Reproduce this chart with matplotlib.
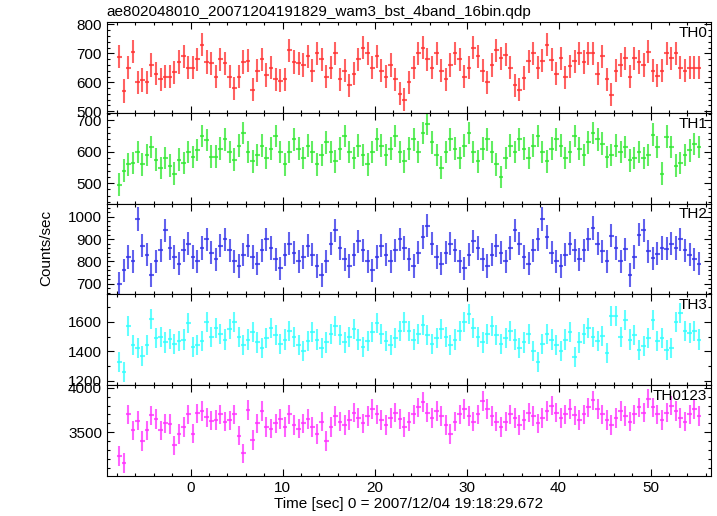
import numpy as np
import matplotlib
matplotlib.use("Agg")
import matplotlib.pyplot as plt
from matplotlib.ticker import MultipleLocator

plt.rcParams['font.family'] = ['Liberation Sans', 'DejaVu Sans']

title = "ae802048010_20071204191829_wam3_bst_4band_16bin.qdp"
xlabel = "Time [sec] 0 = 2007/12/04 19:18:29.672"
ylabel = "Counts/sec"

# time bins (sec), centre of first bin and bin width
t_start = -7.75
bin_width = 0.5

names = ["TH0", "TH1", "TH2", "TH3", "TH0123"]
colors = ["#ff2d2d", "#2de82d", "#2d2de8", "#2dffff", "#ff2dff"]
errs = [40, 36, 52, 68, 110]

th0 = [688, 570, 650, 705, 600, 608, 600, 660, 630, 610,
       620, 620, 635, 670, 690, 650, 650, 680, 730, 670,
       665, 620, 680, 665, 620, 580, 620, 670, 675, 575,
       640, 680, 625, 650, 610, 605, 610, 710, 670, 665,
       660, 690, 640, 700, 680, 620, 650, 700, 610, 640,
       590, 630, 680, 720, 700, 650, 690, 640, 620, 660,
       610, 560, 540, 600, 650, 700, 720, 680, 650, 700,
       640, 610, 660, 700, 680, 620, 650, 720, 690, 640,
       600, 660, 710, 683, 696, 650, 590, 575, 615, 672,
       700, 650, 675, 730, 678, 630, 683, 618, 655, 672,
       700, 670, 700, 700, 630, 690, 610, 557, 640, 660,
       683, 620, 683, 670, 660, 705, 640, 623, 640, 700,
       683, 700, 650, 640, 650, 650, 650]

th1 = [495, 540, 560, 565, 600, 560, 590, 615, 575, 548,
       580, 556, 530, 575, 565, 600, 583, 606, 650, 638,
       585, 585, 610, 640, 600, 575, 620, 660, 600, 570,
       590, 620, 580, 610, 650, 600, 560, 600, 640, 610,
       580, 620, 600, 560, 590, 630, 600, 570, 610, 650,
       600, 580, 620, 590, 560, 600, 640, 620, 590, 610,
       650, 600, 570, 610, 640, 600, 660, 690, 630, 590,
       550, 600, 640, 610, 580, 620, 660, 600, 570, 610,
       640, 600, 560, 520, 580, 620, 600, 640, 610, 580,
       620, 650, 600, 570, 610, 640, 620, 580, 600, 650,
       610, 590, 630, 660, 640, 626, 583, 590, 620, 600,
       615, 573, 580, 600, 580, 590, 655, 615, 530, 648,
       615, 556, 565, 590, 605, 625, 616]

th2 = [700, 760, 820, 800, 990, 870, 830, 740, 800, 850,
       940, 860, 820, 790, 850, 880, 820, 800, 860, 900,
       840, 810, 870, 900, 850, 800, 780, 830, 870, 820,
       790, 850, 900, 860, 810, 770, 830, 880, 840, 800,
       820, 870, 830, 780, 740, 800, 880, 940, 860, 810,
       780, 830, 890, 850, 800, 760, 820, 870, 830, 800,
       850, 900, 860, 810, 780, 840, 910, 960, 880, 820,
       790, 840, 880, 850, 800, 770, 830, 890, 860, 810,
       780, 830, 870, 840, 800, 860, 940, 880, 820, 790,
       850, 900, 990, 910, 840, 800, 780, 830, 880, 850,
       810, 850, 900, 950, 880, 845, 800, 915, 860, 800,
       855, 740, 820, 920, 940, 845, 815, 835, 860, 858,
       880, 860, 900, 850, 830, 810, 790]

th3 = [1330, 1260, 1570, 1440, 1420, 1370, 1440, 1620, 1490, 1500,
       1460, 1482, 1450, 1470, 1480, 1590, 1430, 1440, 1470, 1600,
       1500, 1560, 1520, 1480, 1550, 1600, 1500, 1440, 1480, 1530,
       1460, 1420, 1490, 1560, 1510, 1450, 1480, 1540, 1500, 1440,
       1400, 1470, 1530, 1480, 1420, 1460, 1520, 1570, 1510, 1460,
       1500, 1550, 1480, 1430, 1470, 1530, 1590, 1520, 1470, 1440,
       1490, 1540, 1600, 1540, 1480, 1520, 1580, 1510, 1450, 1490,
       1550, 1500, 1440, 1480, 1540, 1600, 1650, 1560, 1500, 1460,
       1520, 1570, 1510, 1450, 1490, 1540, 1480, 1420, 1460, 1520,
       1400, 1330, 1450, 1520, 1480, 1440, 1400, 1480, 1530, 1360,
       1460, 1520, 1560, 1500, 1470, 1503, 1390, 1640, 1640, 1500,
       1610, 1480, 1510, 1410, 1434, 1490, 1610, 1470, 1490, 1411,
       1420, 1600, 1660, 1540, 1526, 1540, 1480]

th0123 = [3230, 3150, 3700, 3520, 3630, 3400, 3520, 3690, 3650, 3520,
          3600, 3590, 3350, 3480, 3560, 3700, 3483, 3713, 3740, 3667,
          3630, 3640, 3700, 3620, 3632, 3700, 3460, 3260, 3750, 3410,
          3600, 3740, 3560, 3540, 3600, 3650, 3560, 3700, 3580, 3540,
          3600, 3650, 3560, 3480, 3620, 3400, 3560, 3680, 3620, 3580,
          3640, 3720, 3660, 3600, 3680, 3760, 3700, 3640, 3580, 3660,
          3720, 3650, 3560, 3620, 3700, 3780, 3840, 3720, 3660, 3740,
          3680, 3580, 3480, 3620, 3700, 3760, 3680, 3620, 3700, 3850,
          3760, 3680, 3620, 3560, 3620, 3700, 3660, 3580, 3640, 3720,
          3680, 3600, 3660, 3740, 3800, 3720, 3660, 3700, 3760, 3690,
          3640, 3700, 3780, 3860, 3760, 3700, 3640, 3580, 3660, 3740,
          3680, 3620, 3700, 3780, 3720, 3880, 3780, 3700, 3640, 3720,
          3800, 3740, 3660, 3620, 3700, 3760, 3680]

series = [th0, th1, th2, th3, th0123]
ylims = [(494, 808), (435, 724), (653, 1059), (1172, 1786), (3008, 4032)]
ymajor = [100, 100, 100, 200, 500]
yminor = [20, 20, 20, 100, 100]

fig, axes = plt.subplots(5, 1, sharex=True, figsize=(7.17, 5.16), dpi=100)
fig.subplots_adjust(left=0.149, right=0.992, top=0.957, bottom=0.078, hspace=0)

for k, ax in enumerate(axes):
    y = np.array(series[k])
    t = t_start + bin_width * np.arange(len(y))
    ax.errorbar(t, y, xerr=bin_width / 2, yerr=errs[k], fmt='none',
                ecolor=colors[k], elinewidth=1.5, alpha=0.75)
    ax.set_ylim(*ylims[k])
    ax.set_xlim(-9.1, 56.6)
    ax.yaxis.set_major_locator(MultipleLocator(ymajor[k]))
    ax.yaxis.set_minor_locator(MultipleLocator(yminor[k]))
    ax.xaxis.set_major_locator(MultipleLocator(10))
    ax.xaxis.set_minor_locator(MultipleLocator(2))
    ax.tick_params(which='both', direction='in', top=True, right=True,
                   labelsize=11, width=0.8)
    ax.tick_params(which='major', length=5)
    ax.tick_params(which='minor', length=2.5)
    ax.text(0.993, 0.96, names[k], transform=ax.transAxes, ha='right',
            va='top', fontsize=11)
    for s in ax.spines.values():
        s.set_linewidth(0.8)

axes[-1].set_xlabel(xlabel, fontsize=11, labelpad=2)
fig.text(0.065, 0.52, ylabel, rotation=90, ha='center', va='center', fontsize=11)
fig.text(0.149, 0.99, title, ha='left', va='top', fontsize=11)

fig.savefig("out.png", dpi=100)
